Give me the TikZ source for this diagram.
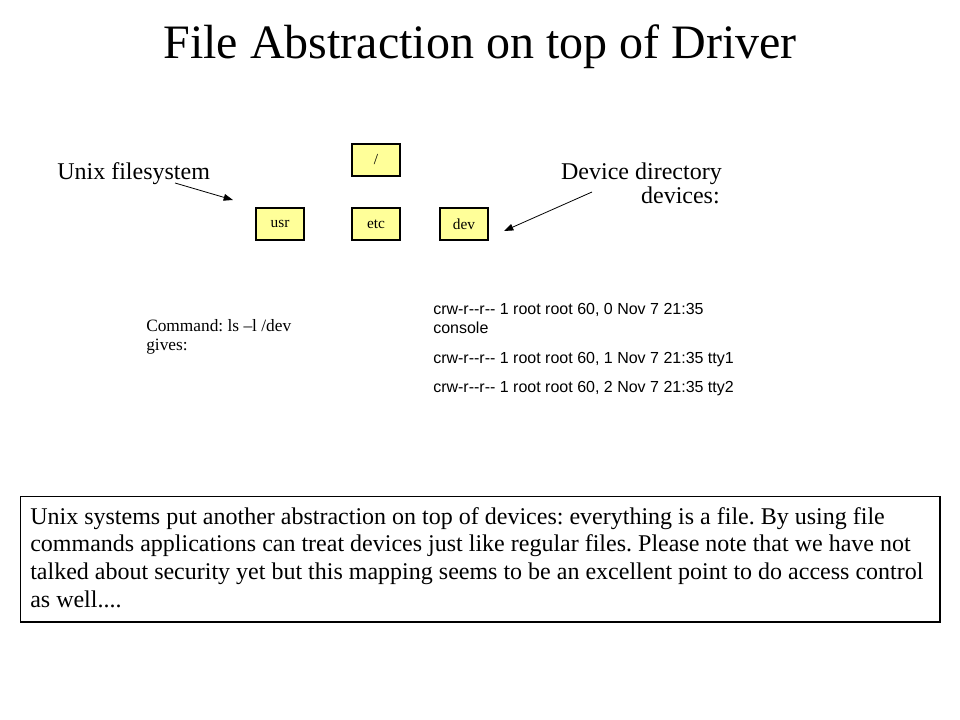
\documentclass[tikz,border=0pt]{standalone}
\usepackage{fontspec}
\setmainfont{Liberation Serif}
\newfontfamily\arialfont{Liberation Sans}
\usetikzlibrary{arrows.meta}
\definecolor{boxyellow}{HTML}{FFFF99}
\frenchspacing
\tikzset{
  dirbox/.style={draw=black, fill=boxyellow, line width=0.8pt, minimum width=36pt, minimum height=24pt, inner sep=0pt, font=\fontsize{11.5}{13}\selectfont},
  pointer/.style={-{Triangle[length=7pt,width=5pt]}, line width=0.6pt},
  lbl/.style={inner sep=0pt, anchor=base west},
  listing/.style={inner sep=0pt, anchor=base west, font=\arialfont\fontsize{12}{14}\selectfont},
  body/.style={inner sep=0pt, anchor=base west, font=\fontsize{18}{21}\selectfont}
}
\begin{document}
\begin{tikzpicture}[x=0.75pt,y=-0.75pt]
\useasboundingbox (0,0) rectangle (960,720);
\fill[white] (0,0) rectangle (960,720);
\node[inner sep=0pt, anchor=base, font=\fontsize{36}{43}\selectfont] (title) at (480,59) {File Abstraction on top of Driver};

\node[dirbox] (root) at (376,160) {/};
\node[dirbox] (usr) at (280,224) {usr};
\node[dirbox] (etc) at (376,224) {etc};
\node[dirbox] (dev) at (464,224) {dev};

\node[lbl, font=\fontsize{18}{21}\selectfont] (unixfs) at (57,180) {Unix filesystem};
\node[inner sep=0pt, anchor=base east, font=\fontsize{18}{21}\selectfont] (devdir) at (722,180) {Device directory};
\node[inner sep=0pt, anchor=base east, font=\fontsize{18}{21}\selectfont] (devices) at (720,204) {devices:};

\coordinate (a1s) at (175,183);
\coordinate (a1e) at (233,200);
\coordinate (a2s) at (592,192);
\coordinate (a2e) at (504,231);
\draw[pointer] (a1s) -- (a1e);
\draw[pointer] (a2s) -- (a2e);

\node[lbl, font=\fontsize{13}{15}\selectfont] (cmd1) at (146,331) {Command: ls –l /dev};
\node[lbl, font=\fontsize{13}{15}\selectfont] (cmd2) at (146,350) {gives:};

\node[listing] (l1) at (433,315) {crw-r--r-- 1 root root 60, 0 Nov 7 21:35};
\node[listing] (l2) at (433,334) {console};
\node[listing] (l3) at (433,363) {crw-r--r-- 1 root root 60, 1 Nov 7 21:35 tty1};
\node[listing] (l4) at (433,392) {crw-r--r-- 1 root root 60, 2 Nov 7 21:35 tty2};

\draw[line width=0.8pt] (20.5,496.5) rectangle (940,622);
\node[body] (b1) at (30,524) {Unix systems put another abstraction on top of devices: everything is a file. By using file};
\node[body] (b2) at (30,551) {commands applications can treat devices just like regular files. Please note that we have not};
\node[body] (b3) at (30,579) {talked about security yet but this mapping seems to be an excellent point to do access control};
\node[body] (b4) at (30,607) {as well....};
\end{tikzpicture}
\end{document}
